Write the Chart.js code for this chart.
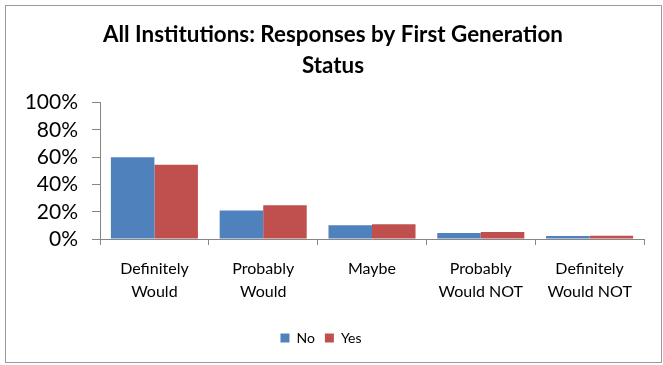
<!DOCTYPE html>
<html>
<head>
<meta charset="utf-8">
<script src="https://cdn.jsdelivr.net/npm/chart.js@4.4.1/dist/chart.umd.min.js"></script>
<style>
  html, body { margin: 0; padding: 0; background: #fff; }
  #wrap { width: 663px; height: 365px; position: relative; }
</style>
</head>
<body>
<div id="wrap"><canvas id="chart" width="663" height="365"></canvas></div>
<script>
const categories = [
    ['Definitely', 'Would'],
    ['Probably', 'Would'],
    'Maybe',
    ['Probably', 'Would NOT'],
    ['Definitely', 'Would NOT']
];
const noValues = [60, 21, 10, 4.4, 2.2];
const yesValues = [54.5, 24.7, 10.8, 5.2, 2.4];
const yTicks = [0, 20, 40, 60, 80, 100];

const axisGray = '#868686';

// thin frame around the whole chart, legend nudged left a little
const frame = {
    id: 'frame',
    afterUpdate(chart) {
        if (chart.legend) {
            chart.legend.left -= 12;
            chart.legend.right -= 12;
        }
    },
    beforeDraw(chart) {
        const ctx = chart.ctx;
        ctx.save();
        ctx.fillStyle = '#fff';
        ctx.fillRect(0, 0, chart.width, chart.height);
        ctx.strokeStyle = '#9a9a9a';
        ctx.lineWidth = 1;
        ctx.strokeRect(5.5, 5.5, 656, 357);
        ctx.restore();
    }
};

Chart.defaults.font.family = 'Lato, "Open Sans", sans-serif';
Chart.defaults.color = '#000';

new Chart(document.getElementById('chart').getContext('2d'), {
    type: 'bar',
    data: {
        labels: categories,
        datasets: [
            { label: 'No', data: noValues, backgroundColor: '#4F81BD', borderWidth: 0 },
            { label: 'Yes', data: yesValues, backgroundColor: '#C0504D', borderWidth: 0 }
        ]
    },
    options: {
        responsive: false,
        animation: false,
        categoryPercentage: 0.8,
        barPercentage: 1.0,
        layout: { padding: { left: 22, right: 19, top: 0, bottom: 10 } },
        plugins: {
            title: {
                display: true,
                text: ['All Institutions: Responses by First Generation', 'Status'],
                color: '#000',
                font: { size: 22.4, weight: 'bold', lineHeight: 1.4 },
                padding: { top: 19, bottom: 21 }
            },
            legend: {
                position: 'bottom',
                labels: {
                    boxWidth: 9,
                    boxHeight: 9,
                    padding: 10,
                    color: '#000',
                    font: { size: 14 }
                }
            },
            tooltip: { enabled: false }
        },
        scales: {
            x: {
                grid: {
                    drawOnChartArea: false,
                    drawTicks: true,
                    tickLength: 6,
                    color: axisGray,
                    offset: true
                },
                border: { display: true, color: axisGray },
                ticks: {
                    maxRotation: 0,
                    autoSkip: false,
                    padding: 12,
                    color: '#000',
                    font: { size: 16, lineHeight: 1.45 }
                },
                afterFit(scale) { scale.height = 82; }
            },
            y: {
                min: 0,
                max: 100,
                afterBuildTicks(scale) {
                    scale.ticks = yTicks.map(v => ({ value: v }));
                },
                grid: {
                    drawOnChartArea: false,
                    drawTicks: true,
                    tickLength: 8,
                    color: axisGray
                },
                border: { display: true, color: axisGray },
                ticks: {
                    autoSkip: false,
                    padding: 14,
                    color: '#000',
                    font: { size: 21 },
                    callback: v => v + '%'
                },
                afterFit(scale) { scale.width = 78; }
            }
        }
    },
    plugins: [frame]
});
</script>
</body>
</html>
